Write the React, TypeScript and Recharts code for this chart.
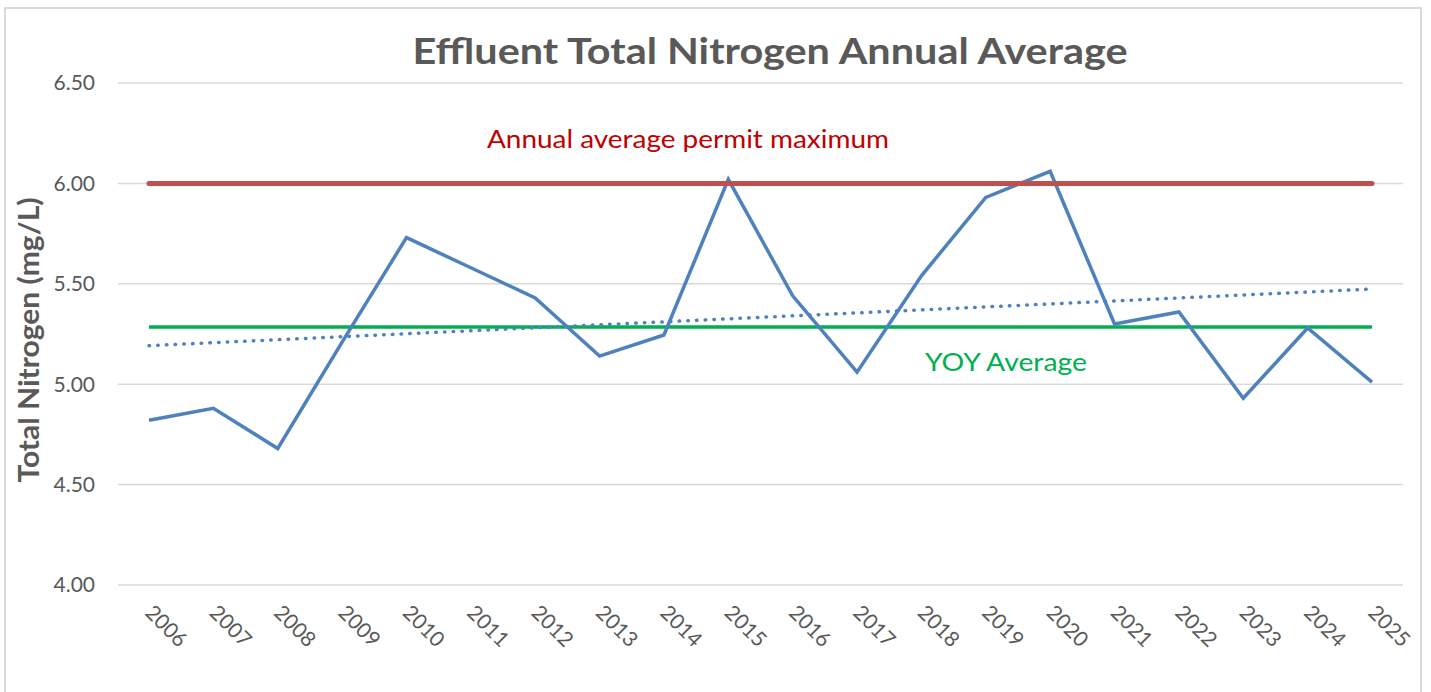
import React from 'react';
import {
  LineChart, Line, XAxis, YAxis, CartesianGrid, ReferenceLine,
} from 'recharts';

// Years on the category axis
const YEARS = [
  '2006', '2007', '2008', '2009', '2010', '2011', '2012', '2013', '2014', '2015',
  '2016', '2017', '2018', '2019', '2020', '2021', '2022', '2023', '2024', '2025',
];

// Annual average effluent total nitrogen, mg/L
const NITROGEN = [
  4.82, 4.88, 4.68, 5.21, 5.73, 5.58, 5.43, 5.14, 5.245, 6.02,
  5.44, 5.06, 5.54, 5.93, 6.06, 5.30, 5.36, 4.93, 5.28, 5.01,
];

const Y_TICKS = [4.0, 4.5, 5.0, 5.5, 6.0, 6.5];

const PERMIT_MAX = 6.0;
const YOY_AVERAGE = 5.285;
// Linear trend end points (2006 -> 2025)
const TREND_START = 5.192;
const TREND_END = 5.474;

const FONT = 'Lato, "Open Sans", sans-serif';
const GREY = '#595959';

const data = YEARS.map((year, i) => ({ year, value: NITROGEN[i] }));

function YearTick(props: any): React.JSX.Element {
  const { x, y, payload } = props;
  const tx = x - 5;
  const ty = y + 21;
  return (
    <text
      x={tx}
      y={ty}
      transform={`rotate(45, ${tx}, ${ty})`}
      fill={GREY}
      fontSize={21}
      fontFamily={FONT}
      textAnchor="start"
    >
      {payload.value}
    </text>
  );
}

export default function App(): React.JSX.Element {
  return (
    <div style={{ position: 'absolute', left: 0, top: 0, width: 1431, height: 692, background: '#fff', overflow: 'hidden' }}>
      <div
        style={{
          position: 'absolute', left: 4, top: 7, width: 1418, height: 720,
          border: '2px solid #D9D9D9', boxSizing: 'border-box',
        }}
      />
      <LineChart
        width={1431}
        height={692}
        data={data}
        margin={{ top: 83, right: 28, bottom: 0, left: 58 }}
        style={{ position: 'absolute', left: 0, top: 0 }}
      >
        <CartesianGrid vertical={false} stroke="#D9D9D9" strokeWidth={1.5} />
        <XAxis
          dataKey="year"
          axisLine={false}
          tickLine={false}
          interval={0}
          padding={{ left: 31, right: 31 }}
          tick={<YearTick />}
          height={107}
        />
        <YAxis
          domain={[4, 6.5]}
          ticks={Y_TICKS}
          width={60}
          axisLine={false}
          tickLine={false}
          tickSize={0}
          tickMargin={23}
          tickFormatter={(v: number) => v.toFixed(2)}
          tick={{ fill: GREY, fontSize: 21, fontFamily: FONT }}
        />
        <ReferenceLine
          segment={[{ x: YEARS[0], y: YOY_AVERAGE }, { x: YEARS[YEARS.length - 1], y: YOY_AVERAGE }]}
          stroke="#00B050"
          strokeWidth={3.5}
          ifOverflow="visible"
        />
        <ReferenceLine
          segment={[{ x: YEARS[0], y: TREND_START }, { x: YEARS[YEARS.length - 1], y: TREND_END }]}
          stroke="#4F81BD"
          strokeWidth={3.5}
          strokeDasharray="0.5 8.2"
          strokeLinecap="round"
          ifOverflow="visible"
        />
        <Line
          type="linear"
          dataKey="value"
          stroke="#4F81BD"
          strokeWidth={3.5}
          dot={false}
          activeDot={false}
          isAnimationActive={false}
        />
        <ReferenceLine
          segment={[{ x: YEARS[0], y: PERMIT_MAX }, { x: YEARS[YEARS.length - 1], y: PERMIT_MAX }]}
          stroke="#C0504D"
          strokeWidth={5}
          strokeLinecap="round"
          ifOverflow="visible"
        />
      </LineChart>
      <svg width={1431} height={692} style={{ position: 'absolute', left: 0, top: 0, pointerEvents: 'none' }}>
        <text
          x={770} y={64} textAnchor="middle" fill={GREY} fontSize={37} fontWeight="bold" fontFamily={FONT}
          textLength={715} lengthAdjust="spacingAndGlyphs"
        >
          Effluent Total Nitrogen Annual Average
        </text>
        <text
          x={39}
          y={340}
          transform="rotate(-90, 39, 340)"
          textAnchor="middle"
          fill={GREY}
          fontSize={28}
          fontWeight="bold"
          fontFamily={FONT}
          textLength={285}
          lengthAdjust="spacingAndGlyphs"
        >
          Total Nitrogen (mg/L)
        </text>
        <text
          x={688} y={148} textAnchor="middle" fill="#C00000" fontSize={25} fontFamily={FONT}
          textLength={402} lengthAdjust="spacingAndGlyphs"
        >
          Annual average permit maximum
        </text>
        <text
          x={1006} y={371} textAnchor="middle" fill="#00B050" fontSize={25} fontFamily={FONT}
          textLength={162} lengthAdjust="spacingAndGlyphs"
        >
          YOY Average
        </text>
      </svg>
    </div>
  );
}
